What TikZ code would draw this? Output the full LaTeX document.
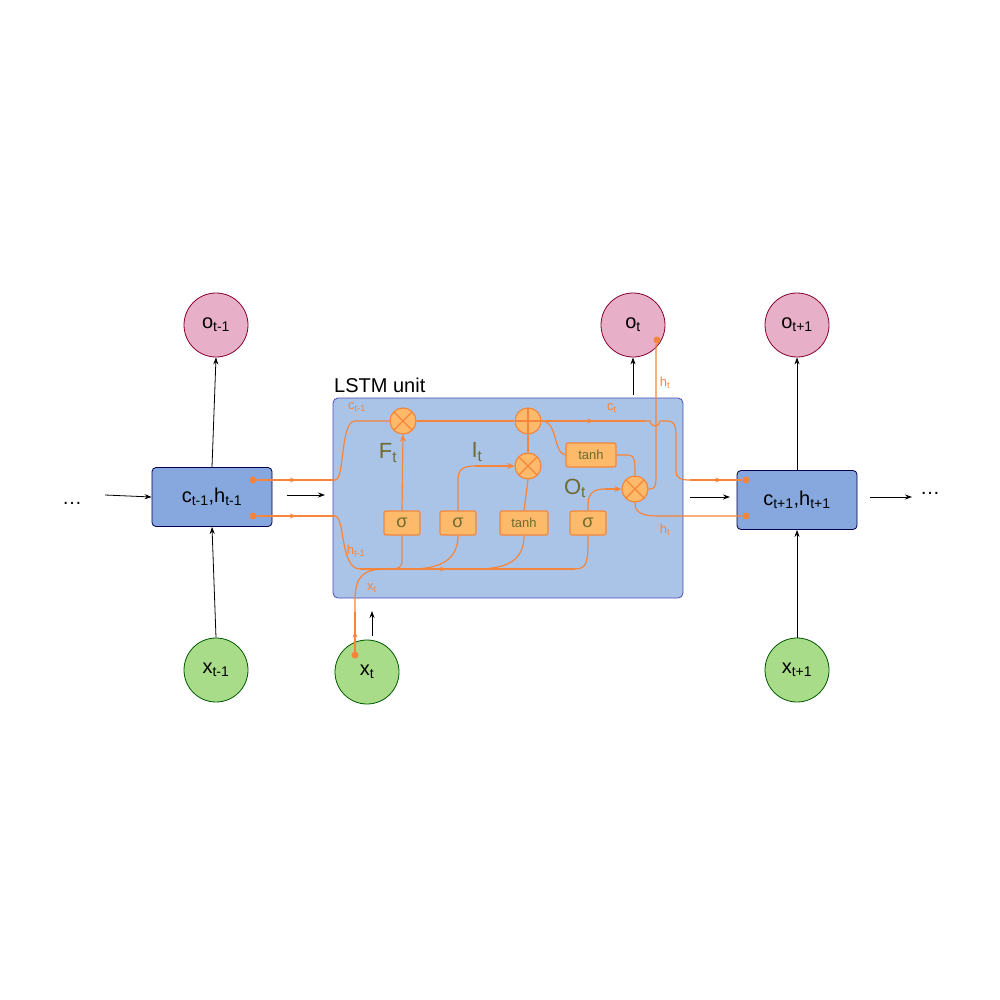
\documentclass[tikz,border=0pt]{standalone}
\usepackage{amsmath}
\usepackage{fontspec}
\setmainfont{Liberation Sans}
\usetikzlibrary{arrows.meta,decorations.markings}
\definecolor{org}{HTML}{F5853A}
\definecolor{gfill}{HTML}{FDBA6B}
\definecolor{olive}{HTML}{6E6A30}
\definecolor{cellb}{HTML}{86A8DE}
\definecolor{lstmb}{HTML}{AAC4E8}
\definecolor{pinkf}{HTML}{E8AFC8}
\definecolor{greenf}{HTML}{A8DC88}
\begin{document}
\begin{tikzpicture}[x=1pt,y=-1pt,
 blk/.style={-{Stealth[length=7pt,width=5pt]},black,line width=0.8pt},
 ol/.style={org,line width=1.2pt},
 oa/.style={org,line width=1.2pt,-{Stealth[length=7pt,width=6pt]}},
 mid/.style={ol,postaction={decorate},decoration={markings,mark=at position #1 with {\arrow{Stealth[length=6pt,width=5pt]}}}},
 cellbox/.style={draw=black!70!blue,fill=cellb,rounded corners=4pt,line width=0.8pt,minimum width=120pt,minimum height=59pt,font=\fontsize{20}{22}\selectfont},
 outc/.style={circle,draw=purple!70!black,fill=pinkf,line width=0.8pt,minimum size=64pt,font=\fontsize{20}{22}\selectfont},
 inc/.style={circle,draw=green!35!black,fill=greenf,line width=0.8pt,minimum size=64pt,font=\fontsize{20}{22}\selectfont},
 gate/.style={draw=org,fill=gfill,rounded corners=2pt,line width=1.2pt,minimum width=36pt,minimum height=24pt,inner sep=0pt,text=olive,font=\fontsize{18}{18}\selectfont},
 tgate/.style={gate,minimum width=50pt,font=\fontsize{13}{14}\selectfont},
 mul/.style={circle,draw=org,fill=gfill,line width=1.2pt,minimum size=26pt,inner sep=0pt,path picture={\draw[org,line width=1.2pt](path picture bounding box.north west)--(path picture bounding box.south east)(path picture bounding box.north east)--(path picture bounding box.south west);}},
 add/.style={circle,draw=org,fill=gfill,line width=1.2pt,minimum size=26pt,inner sep=0pt,path picture={\draw[org,line width=1.2pt](path picture bounding box.north)--(path picture bounding box.south)(path picture bounding box.east)--(path picture bounding box.west);}},
 olab/.style={text=org,font=\fontsize{13}{14}\selectfont,inner sep=0pt},
 glab/.style={text=olive,font=\fontsize{22}{22}\selectfont,inner sep=0pt},
 dot/.style={circle,fill=org,inner sep=0pt,minimum size=7pt}]
\useasboundingbox (0,0) rectangle (1000,1000);
% LSTM box
\node[draw=black!40!blue!70,fill=lstmb,rounded corners=5pt,line width=0.8pt,minimum width=350pt,minimum height=200pt] (lstm) at (508,498) {};
\node[font=\fontsize{20}{22}\selectfont,anchor=south west,inner sep=0pt] (lab) at (334,393) {LSTM unit};
% outer nodes
\node[cellbox] (c1) at (212,497) {c$_{\text{t-1}}$,h$_{\text{t-1}}$};
\node[cellbox] (c3) at (797,500) {c$_{\text{t+1}}$,h$_{\text{t+1}}$};
\node[outc] (o1) at (216,325) {o$_{\text{t-1}}$};
\node[outc] (o2) at (633,325) {o$_{\text{t}}$};
\node[outc] (o3) at (797,325) {o$_{\text{t+1}}$};
\node[inc] (x1) at (216,670) {x$_{\text{t-1}}$};
\node[inc] (x2) at (367,672) {x$_{\text{t}}$};
\node[inc] (x3) at (797,670) {x$_{\text{t+1}}$};
\node[font=\fontsize{20}{22}\selectfont] (d1) at (72,503) {\dots};
\node[font=\fontsize{20}{22}\selectfont] (d2) at (930,493) {\dots};
\coordinate (a1s) at (105,495); \coordinate (a2s) at (287,495); \coordinate (a2e) at (325,495);
\coordinate (a3s) at (690,497); \coordinate (a3e) at (730,497); \coordinate (a4s) at (870,497); \coordinate (a4e) at (912,497);
\draw[blk] (a1s) -- (c1.west);
\draw[blk] (a2s) -- (a2e);
\draw[blk] (a3s) -- (a3e);
\draw[blk] (a4s) -- (a4e);
\draw[blk] (c1.north) -- (o1.south);
\draw[blk] (x1.north) -- (c1.south);
\draw[blk] (c3.north) -- (o3.south);
\draw[blk] (x3.north) -- (c3.south);
\coordinate (ot0) at (633,395); \draw[blk] (ot0) -- (o2.south);
\coordinate (xt0) at (372,636); \coordinate (xt1) at (372,611); \draw[blk] (xt0) -- (xt1);
% gates
\node[mul] (mf) at (403,421) {};
\node[add] (pl) at (528,421) {};
\node[mul] (mi) at (528,466) {};
\node[mul] (mo) at (635,489) {};
\node[tgate] (th) at (591,455) {tanh};
\node[gate] (sf) at (402,523) {σ};
\node[gate] (si) at (458,523) {σ};
\node[tgate,minimum width=48pt] (tc) at (524,523) {tanh};
\node[gate] (so) at (588,523) {σ};
% dots
\node[dot] (p1) at (253,480) {}; \node[dot] (p2) at (253,516) {};
\node[dot] (q1) at (746,480) {}; \node[dot] (q2) at (746,516) {};
\node[dot] (px) at (355,655) {}; \node[dot] (po) at (657,340) {};
% cell line
\draw[mid=0.5] (p1) -- (335,480);
\draw[ol] (335,480) .. controls (345,480) and (340,421) .. (355,421) -- (mf.west);
\draw[ol] (mf.east) -- (pl.west);
\draw[mid=0.5] (pl.east) -- (645,421);
\draw[ol] (645,421) -- (650,421) arc (180:0:5) -- (668,421) .. controls (676,421) and (676,430) .. (676,440) -- (676,470) .. controls (676,478) and (680,480) .. (690,480);
\draw[mid=0.6] (690,480) -- (q1);
% h line
\draw[mid=0.5] (p2) -- (335,516);
\draw[ol] (335,516) .. controls (345,516) and (340,569) .. (360,569);
\draw[mid=0.4] (360,569) -- (575,569);
\draw[ol] (575,569) .. controls (588,569) and (588,560) .. (so.south);
\draw[ol] (px.center) -- (355,600) .. controls (355,575) and (365,569) .. (385,569);
\draw[ol] (sf.south) -- (402,560) .. controls (402,568) and (398,569) .. (390,569);
\draw[ol] (si.south) .. controls (458,560) and (440,568) .. (415,569);
\draw[ol] (tc.south) .. controls (524,562) and (505,568) .. (480,569);
\draw[mid=0.55] (px.center) -- (355,612);
% gates connections
\draw[oa] (sf.north) -- (mf.south);
\draw[ol] (si.north) -- (458,480) .. controls (458,470) and (462,466) .. (475,466);
\draw[oa] (475,466) -- (mi.west);
\draw[ol] (tc.north) -- (mi.south);
\draw[ol] (mi.north) -- (pl.south);
\draw[ol] (so.north) -- (588,505) .. controls (588,492) and (595,489) .. (605,489);
\draw[oa] (605,489) -- (mo.west);
\draw[ol] (pl.east) .. controls (558,421) and (553,453) .. (th.west);
\draw[ol] (th.east) -- (628,455) .. controls (635,455) and (635,462) .. (mo.north);
\draw[ol] (mo.east) -- (650,489) .. controls (655,489) and (656,485) .. (656,478) -- (656,345) -- (po);
\draw[ol] (mo.south) .. controls (635,512) and (640,516) .. (660,516) -- (q2);
% labels
\node[olab] (l1) at (357,407) {c$_{\text{t-1}}$};
\node[olab] (l2) at (612,408) {c$_{\text{t}}$};
\node[olab] (l3) at (665,383) {h$_{\text{t}}$};
\node[olab] (l4) at (665,530) {h$_{\text{t}}$};
\node[olab] (l5) at (356,551) {h$_{\text{t-1}}$};
\node[olab] (l6) at (372,588) {x$_{\text{t}}$};
\node[glab] (g1) at (388,453) {F$_{\text{t}}$};
\node[glab] (g2) at (477,452) {I$_{\text{t}}$};
\node[glab] (g3) at (575,488) {O$_{\text{t}}$};
\end{tikzpicture}
\end{document}
